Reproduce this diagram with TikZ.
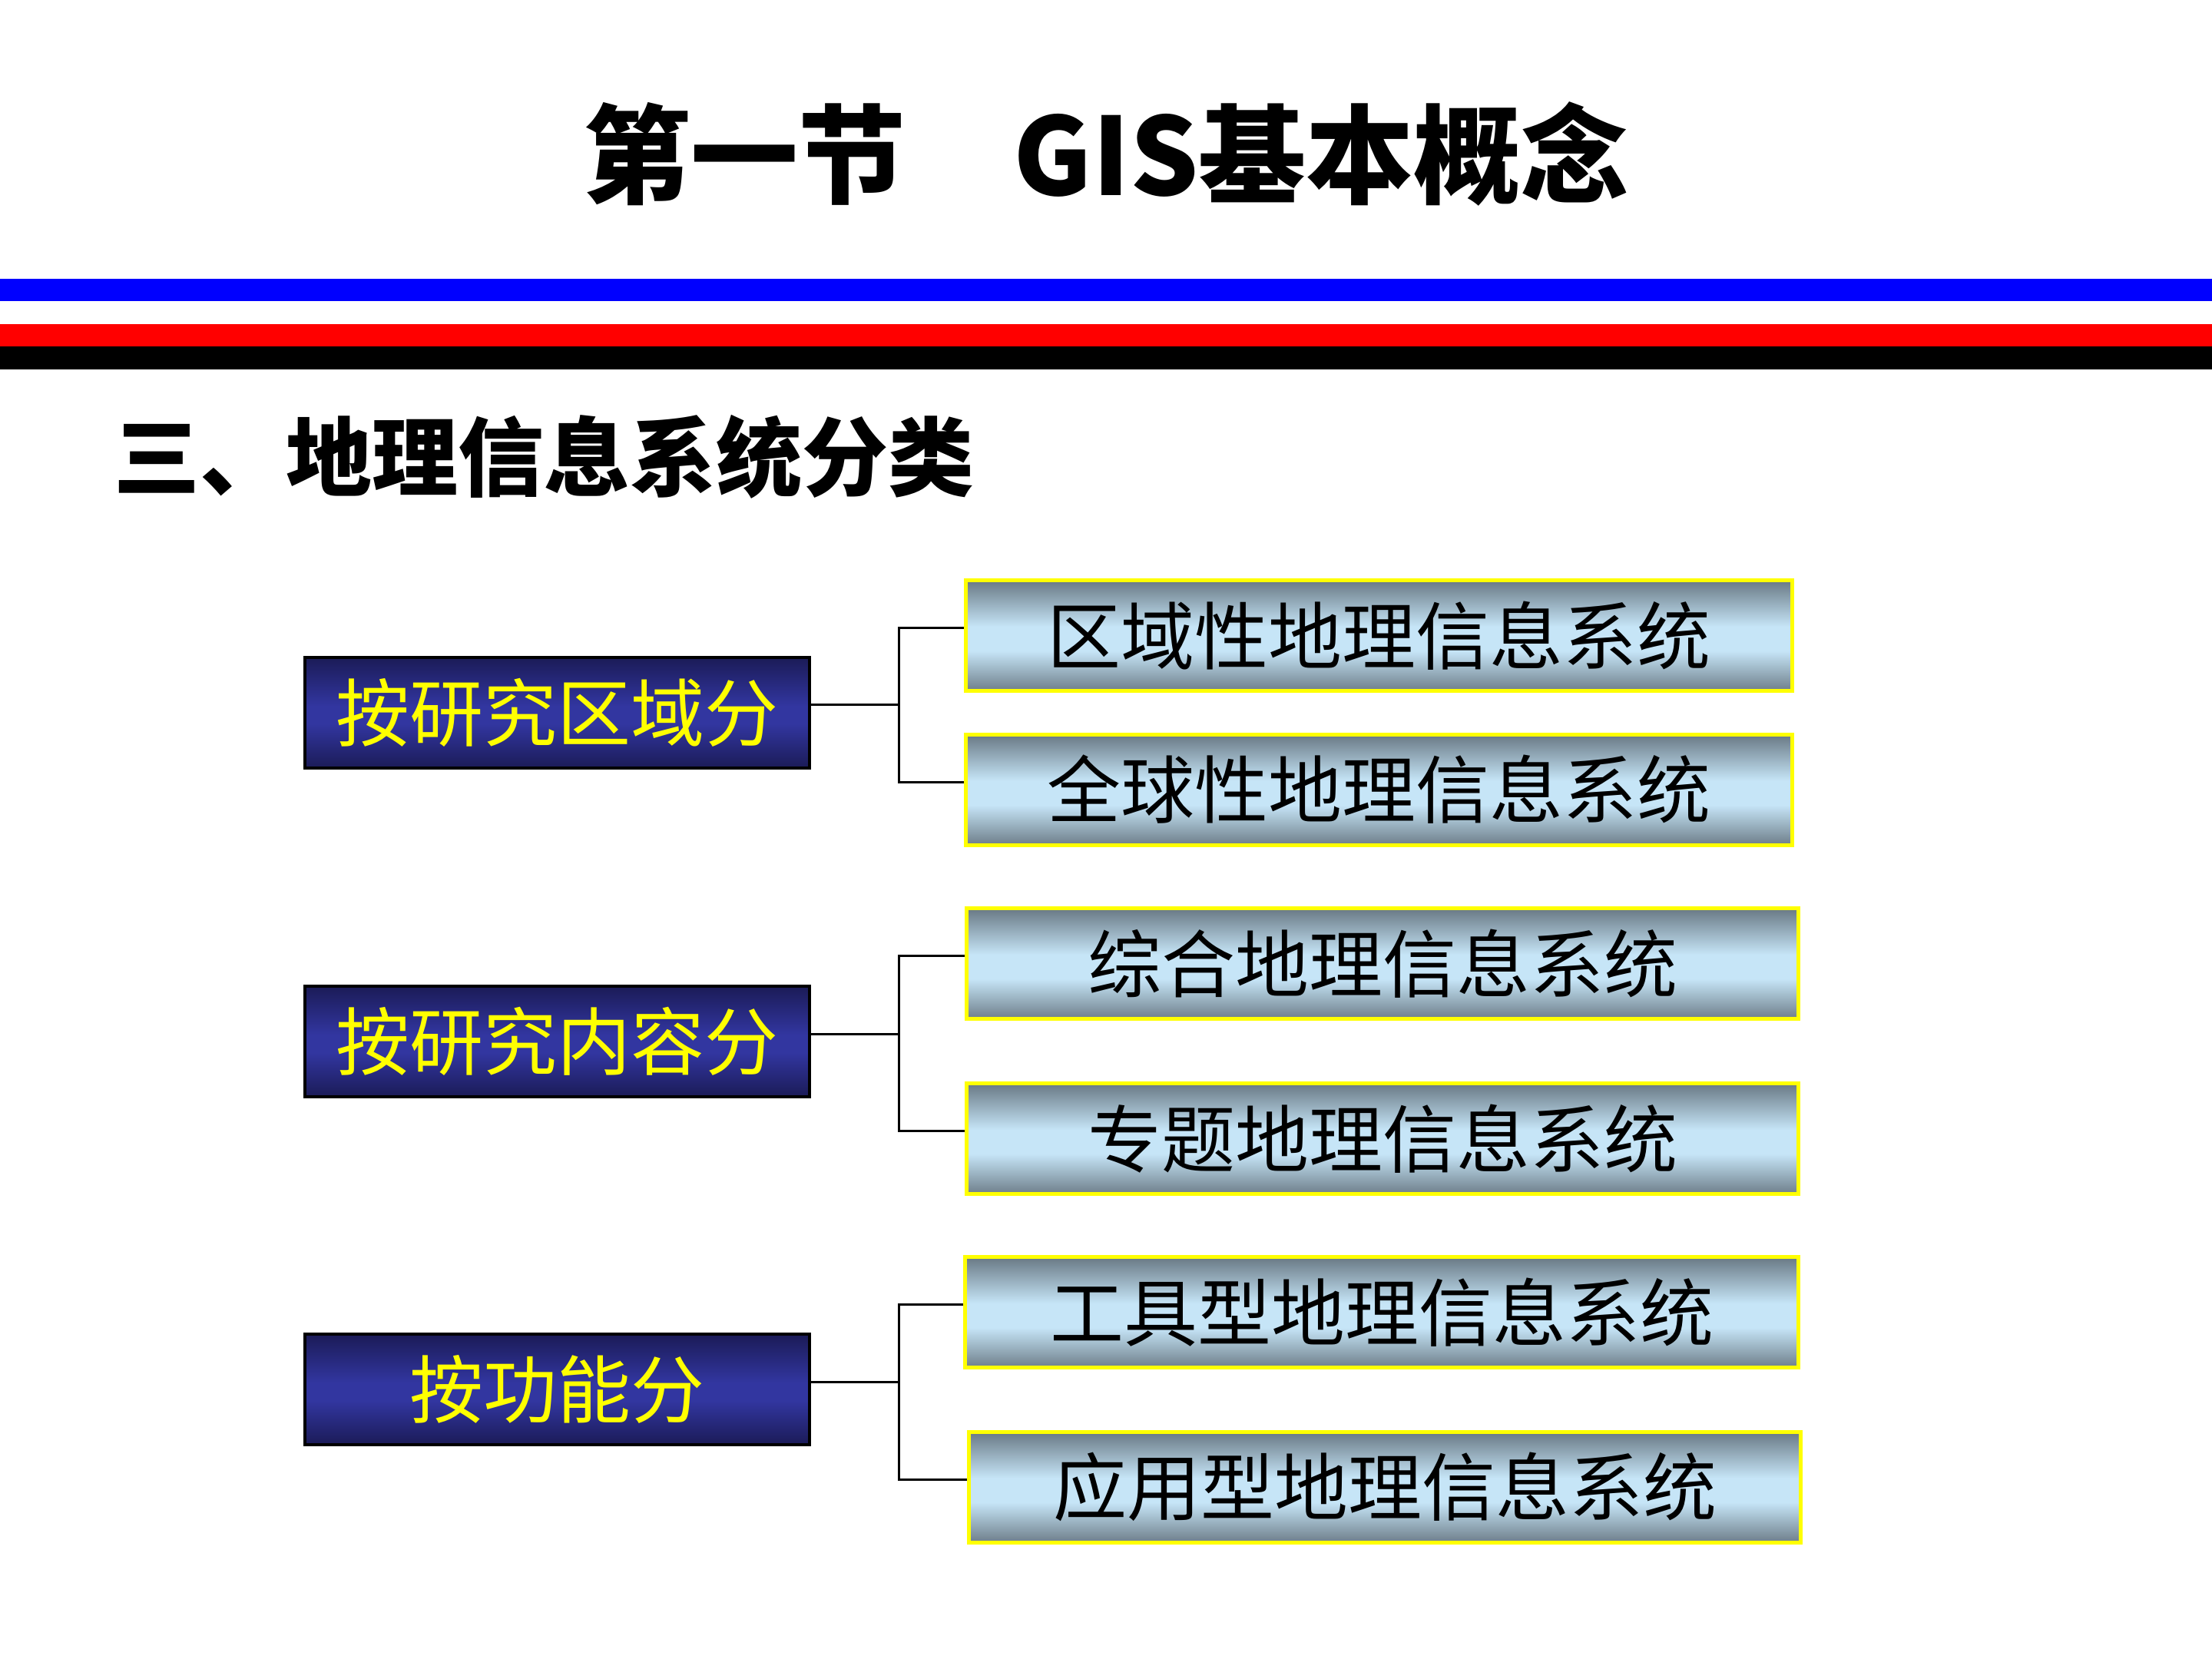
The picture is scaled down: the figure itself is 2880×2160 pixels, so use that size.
\documentclass[tikz,border=0pt]{standalone}
\usepackage{fontspec}
\newfontfamily\cjk{Noto Sans CJK SC}
\definecolor{navyD}{HTML}{1B1B57}
\definecolor{navyL}{HTML}{3236A0}
\definecolor{greyD}{HTML}{687884}
\definecolor{greyB}{HTML}{6E7E8A}
\definecolor{lightB}{HTML}{C6E5F7}
\definecolor{yel}{HTML}{FFFF00}
\pgfdeclareverticalshading{lboxshade}{100bp}{color(0bp)=(navyD); color(25bp)=(navyD); color(45bp)=(navyL); color(53bp)=(navyL); color(75bp)=(navyD); color(100bp)=(navyD)}
\pgfdeclareverticalshading{rboxshade}{100bp}{color(0bp)=(greyB); color(25bp)=(greyB); color(43bp)=(lightB); color(54bp)=(lightB); color(75bp)=(greyD); color(100bp)=(greyD)}
\tikzset{
  leftbox/.style={draw=black, line width=1pt, shading=lboxshade, minimum width=164.25pt, minimum height=36pt, inner sep=0pt, text=yel, font=\cjk\fontsize{24pt}{28pt}\selectfont},
  rightbox/.style={draw=yel, line width=1.25pt, shading=rboxshade, minimum width=269pt, minimum height=36pt, inner sep=0pt, text=black, font=\cjk\fontsize{24pt}{28pt}\selectfont},
  conn/.style={draw=black, line width=0.75pt},
  stripe/.style={draw=none}
}
\begin{document}
\begin{tikzpicture}[x=0.25pt,y=-0.25pt]
\useasboundingbox (0,0) rectangle (2880,2160);
\fill[white] (0,0) rectangle (2880,2160);
% stripes
\fill[stripe, fill={rgb,255:red,0;green,0;blue,255}] (0,363) rectangle (2880,392);
\fill[stripe, fill={rgb,255:red,255;green,0;blue,0}] (0,422) rectangle (2880,452);
\fill[stripe, fill=black] (0,451) rectangle (2880,481);
% title
\node[font=\cjk\bfseries\fontsize{35pt}{40pt}\selectfont, inner sep=0pt] (title) at (1440,200) {第一节　GIS基本概念};
\node[font=\cjk\bfseries\fontsize{28pt}{32pt}\selectfont, inner sep=0pt, anchor=west] (sub) at (148,595) {三、地理信息系统分类};
% left boxes
\node[leftbox] (L1) at (725.5,928) {按研究区域分};
\node[leftbox] (L2) at (725.5,1356) {按研究内容分};
\node[leftbox] (L3) at (725.5,1809) {按功能分};
% right boxes
\node[rightbox] (R1) at (1795.5,827.5) {区域性地理信息系统};
\node[rightbox] (R2) at (1795.5,1028) {全球性地理信息系统};
\node[rightbox, minimum width=270.75pt] (R3) at (1800,1254.5) {综合地理信息系统};
\node[rightbox, minimum width=270.75pt] (R4) at (1800,1482.5) {专题地理信息系统};
\node[rightbox, minimum width=271.25pt] (R5) at (1799,1708.5) {工具型地理信息系统};
\node[rightbox, minimum width=270.75pt] (R6) at (1803,1936) {应用型地理信息系统};
% connectors
\coordinate (bus) at (1170,0);
\foreach \l/\a/\b in {L1/R1/R2, L2/R3/R4, L3/R5/R6}{
  \draw[conn] ([yshift=2.5pt]\l.east) -- ([yshift=2.5pt]\l.east -| bus);
  \draw[conn] ([yshift=2.5pt]\a.west) -- ([yshift=2.5pt]\a.west -| bus) -- ([yshift=2.5pt]\b.west -| bus) -- ([yshift=2.5pt]\b.west);
}
\end{tikzpicture}
\end{document}
